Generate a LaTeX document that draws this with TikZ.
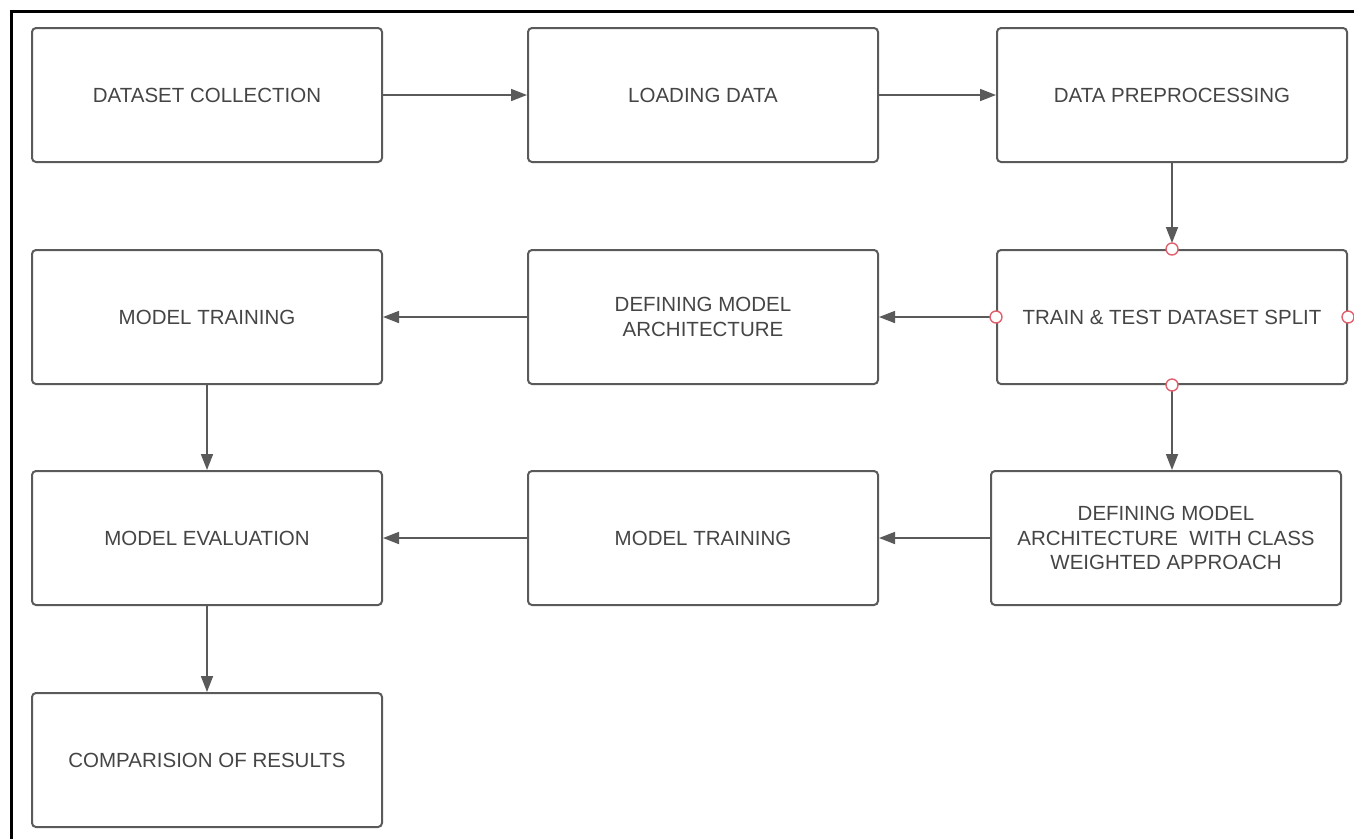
\documentclass[tikz,border=0pt]{standalone}
\usepackage{fontspec}
\setmainfont{Liberation Sans}
\usetikzlibrary{arrows.meta}
\definecolor{boxline}{HTML}{5A5A5A}
\definecolor{labeltext}{HTML}{454545}
\definecolor{portred}{HTML}{E0606E}
\begin{document}
\begin{tikzpicture}[x=1pt,y=-1pt,
  stepbox/.style={draw=boxline, line width=2pt, rounded corners=4pt,
    minimum width=350pt, minimum height=134pt, inner sep=0pt,
    align=center, text=labeltext, font=\fontsize{20.5}{24.5}\selectfont},
  flow/.style={draw=boxline, line width=1.7pt,
    -{Triangle[length=16pt,width=12pt]}},
  port/.style={circle, draw=portred, fill=white, line width=1.4pt,
    minimum size=12pt, inner sep=0pt}]
  \useasboundingbox (0,0) rectangle (1354,839);
  % frame (top and left edges)
  \draw[line width=3pt, black] (10,11) -- (1354,11);
  \draw[line width=3pt, black] (11,11) -- (11,839);

  % row 1
  \node[stepbox] (collect) at (207,95) {DATASET COLLECTION};
  \node[stepbox] (load) at (703,95) {LOADING DATA};
  \node[stepbox] (prep) at (1172,95) {DATA PREPROCESSING};
  % row 2
  \node[stepbox] (trainA) at (207,317) {MODEL TRAINING};
  \node[stepbox] (archA) at (703,317) {DEFINING MODEL\\ARCHITECTURE};
  \node[stepbox] (split) at (1172,317) {TRAIN \& TEST DATASET SPLIT};
  % row 3
  \node[stepbox] (evalu) at (207,538) {MODEL EVALUATION};
  \node[stepbox] (trainB) at (703,538) {MODEL TRAINING};
  \node[stepbox] (archB) at (1166,538) {DEFINING MODEL\\ARCHITECTURE\ \ WITH CLASS\\WEIGHTED APPROACH};
  % row 4
  \node[stepbox] (compare) at (207,760) {COMPARISION OF RESULTS};

  % connectors
  \draw[flow] (collect.east) -- (load.west);
  \draw[flow] (load.east) -- (prep.west);
  \draw[flow] (prep.south) -- ([yshift=6pt]split.north);
  \draw[flow] (split.west) -- (archA.east);
  \draw[flow] (archA.west) -- (trainA.east);
  \draw[flow] (trainA.south) -- (evalu.north);
  \draw[flow] (split.south) -- (split.south |- archB.north);
  \draw[flow] (archB.west) -- (trainB.east);
  \draw[flow] (trainB.west) -- (evalu.east);
  \draw[flow] (evalu.south) -- (compare.north);

  % connection points on the split step
  \node[port] at (split.north) {};
  \node[port] at (split.west) {};
  \node[port] at (split.east) {};
  \node[port] at (split.south) {};
\end{tikzpicture}
\end{document}
